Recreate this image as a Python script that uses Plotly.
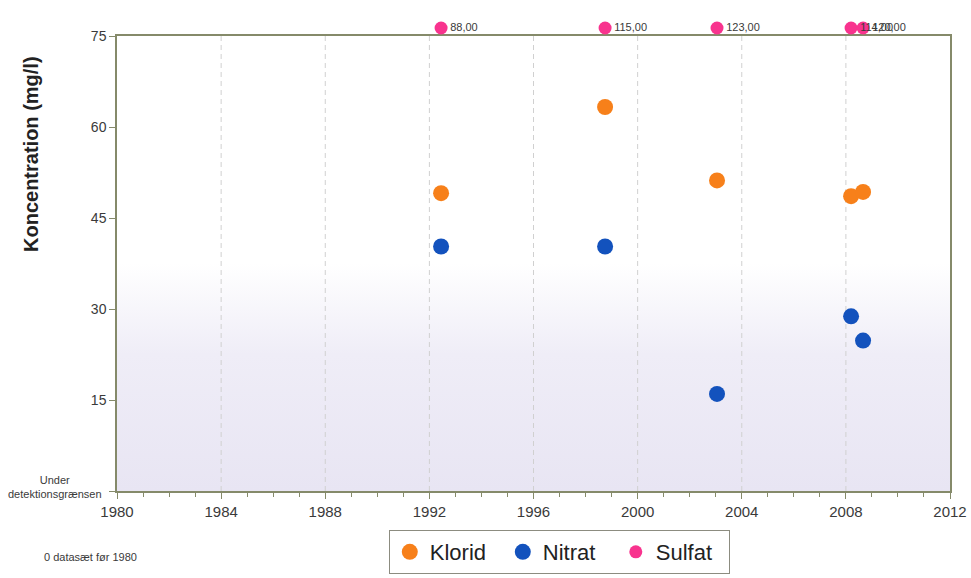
"""Koncentration af klorid, nitrat og sulfat over tid (scatter, plotly)."""

import plotly.graph_objects as go

# Sample dates as decimal years
KLORID_YEARS = [1992.45, 1998.75, 2003.05, 2008.2, 2008.66]
KLORID_VALUES = [49.1, 63.3, 51.2, 48.6, 49.3]

NITRAT_YEARS = [1992.45, 1998.75, 2003.05, 2008.2, 2008.66]
NITRAT_VALUES = [40.3, 40.3, 16.0, 28.8, 24.8]

SULFAT_YEARS = [1992.45, 1998.75, 2003.05, 2008.2, 2008.66]
SULFAT_VALUES = [88.0, 115.0, 123.0, 114.0, 120.0]

Y_TICKS = [0, 15, 30, 45, 60, 75]
Y_TICK_TEXT = ["", "15", "30", "45", "60", "75"]
X_RANGE = [1980, 2012]
X_MAJOR = 4
Y_MAX = 75

ORANGE = "#f7801a"
BLUE = "#1352bd"
PINK = "#f8338e"
AXIS = "#858a6a"
INK = "#222222"
LABEL = "#3a3a3a"

# main plot sits in the lower part; a thin strip above it holds off-scale values
MAIN_TOP = 0.966

fig = go.Figure()

# plot-area background: white at the top fading to pale lavender at the bottom
fig.add_scatter(
    x=[X_RANGE[0], X_RANGE[1], X_RANGE[1], X_RANGE[0], X_RANGE[0]],
    y=[0, 0, Y_MAX, Y_MAX, 0],
    fill="toself",
    mode="none",
    fillgradient=dict(
        type="vertical",
        colorscale=[[0, "#e8e5f3"], [0.3, "#efedf7"], [0.5, "#ffffff"], [1, "#ffffff"]],
    ),
    hoverinfo="skip",
    showlegend=False,
)

# dashed vertical grid at the major year ticks (drawn as a trace so it sits
# above the gradient but below the markers)
grid_x, grid_y = [], []
for yr in range(X_RANGE[0] + X_MAJOR, X_RANGE[1], X_MAJOR):
    grid_x += [yr, yr, None]
    grid_y += [0, Y_MAX, None]
fig.add_scatter(
    x=grid_x, y=grid_y, mode="lines",
    line=dict(color="#d0d0d0", width=1, dash="5px,4px"),
    hoverinfo="skip", showlegend=False,
)

marker = dict(size=16, line=dict(width=0))
fig.add_scatter(x=KLORID_YEARS, y=KLORID_VALUES, mode="markers", name="Klorid",
                marker=dict(color=ORANGE, **marker), cliponaxis=False)
fig.add_scatter(x=NITRAT_YEARS, y=NITRAT_VALUES, mode="markers", name="Nitrat",
                marker=dict(color=BLUE, **marker), cliponaxis=False)
# Sulfat is off the scale: shown in the strip above the plot, with its value
fig.add_scatter(
    x=SULFAT_YEARS,
    y=[0.5] * len(SULFAT_VALUES),
    xaxis="x2",
    yaxis="y2",
    mode="markers+text",
    name="Sulfat",
    text=[f"{v:.2f}".replace(".", ",") for v in SULFAT_VALUES],
    textposition="middle right",
    textfont=dict(size=11, color=LABEL, family="Arial"),
    marker=dict(color=PINK, size=13, line=dict(width=0)),
    cliponaxis=False,
)

fig.add_annotation(
    text="Under<br>detektionsgrænsen", xref="paper", yref="y", x=0, y=0,
    xanchor="right", yanchor="middle", xshift=-13, yshift=4, showarrow=False,
    align="center", font=dict(size=11, color=LABEL, family="Arial"),
)
fig.add_annotation(
    text="<b>Koncentration (mg/l)</b>", xref="paper", yref="paper", x=-0.103, y=0.716,
    xanchor="center", yanchor="middle",
    textangle=-90, showarrow=False, font=dict(size=20, color=INK, family="Arial"),
)
fig.add_annotation(
    text="0 datasæt før 1980", xref="paper", yref="paper", x=-0.0904, y=-0.141,
    xanchor="left", yanchor="middle", showarrow=False,
    font=dict(size=11, color=LABEL, family="Arial"),
)

fig.update_layout(
    width=971,
    height=578,
    margin=dict(l=117, r=21, t=20, b=87, autoexpand=False),
    paper_bgcolor="white",
    plot_bgcolor="rgba(0,0,0,0)",
    font=dict(family="Arial", color=LABEL),
    showlegend=True,
    legend=dict(
        orientation="h",
        xref="container",
        yref="container",
        x=0.576,
        xanchor="center",
        y=1 - 530 / 578,
        yanchor="top",
        bordercolor="#8c8c80",
        borderwidth=1,
        bgcolor="white",
        font=dict(size=22, color=INK, family="Arial"),
        entrywidth=68,
        traceorder="normal",
    ),
    xaxis=dict(
        range=X_RANGE,
        tickmode="linear",
        tick0=X_RANGE[0],
        dtick=X_MAJOR,
        ticks="outside",
        ticklen=6,
        tickcolor=AXIS,
        showline=True,
        linecolor=AXIS,
        linewidth=1.5,
        mirror=True,
        showgrid=False,
        zeroline=False,
        tickfont=dict(size=15, color=LABEL),
        minor=dict(dtick=1, ticks="outside", ticklen=4, tickcolor=AXIS, showgrid=False),
    ),
    yaxis=dict(
        domain=[0, MAIN_TOP],
        range=[0, Y_MAX],
        tickvals=Y_TICKS,
        ticktext=Y_TICK_TEXT,
        ticks="outside",
        ticklen=6,
        tickcolor=AXIS,
        showline=True,
        linecolor=AXIS,
        linewidth=1.5,
        mirror=True,
        showgrid=False,
        zeroline=False,
        tickfont=dict(size=14, color=LABEL),
    ),
    xaxis2=dict(range=X_RANGE, anchor="y2", visible=False, matches="x"),
    yaxis2=dict(domain=[MAIN_TOP, 1], range=[0, 1], anchor="x2", visible=False),
)

fig.write_html(
    "out.html",
    config={"displayModeBar": False},
    post_script="document.body.style.margin='0';",
)
